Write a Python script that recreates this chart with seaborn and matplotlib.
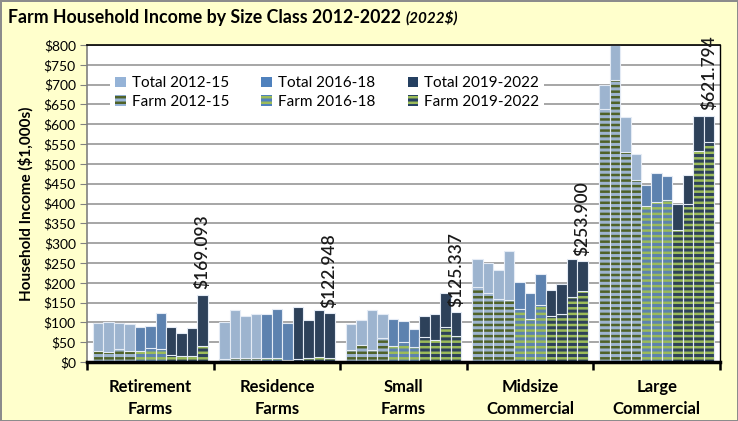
import numpy as np
import pandas as pd
import matplotlib
matplotlib.use('Agg')
import matplotlib.pyplot as plt
from matplotlib.patches import Patch
import seaborn as sns

# Values ($1,000s, 2022 dollars)
groups = ['Retirement\nFarms', 'Residence\nFarms', 'Small\nFarms',
          'Midsize\nCommercial', 'Large\nCommercial']
years = [str(y) for y in range(2012, 2023)]

total_retirement = [98, 101, 98, 96, 89, 91, 123, 89, 74, 87, 169.093]
farm_retirement = [28, 24, 32, 27, 29, 36, 33, 18, 15, 16, 41]
total_residence = [102, 130, 117, 120, 122, 133, 99, 139, 106, 130, 122.948]
farm_residence = [8, 10, 9, 10, 10, 11, 6, 7, 9, 12, 10]
total_small = [97, 105, 131, 121, 109, 104, 83, 117, 120, 174, 125.337]
farm_small = [31, 43, 31, 60, 40, 50, 37, 62, 55, 89, 65]
total_midsize = [261, 251, 231, 281, 202, 175, 222, 181, 196, 261, 253.900]
farm_midsize = [189, 175, 159, 156, 134, 108, 144, 116, 120, 165, 180]
total_large = [698, 800, 618, 525, 447, 476, 469, 400, 473, 622, 621.794]
farm_large = [638, 711, 531, 459, 394, 405, 408, 332, 399, 532, 555]

value_labels = ['$169.093', '$122.948', '$125.337', '$253.900', '$621.794']

# period colours: (total bar colour, farm stripe colour)
period_years = {'2012-15': years[0:4], '2016-18': years[4:7], '2019-2022': years[7:11]}
period_colors = {'2012-15': ('#95B3D7', '#4F6228'),
                 '2016-18': ('#4F81BD', '#9BBB59'),
                 '2019-2022': ('#254061', '#9BBB59')}

totals = [total_retirement, total_residence, total_small, total_midsize, total_large]
farms = [farm_retirement, farm_residence, farm_small, farm_midsize, farm_large]
rows = []
for g, tot, frm in zip(groups, totals, farms):
    for y, t, f in zip(years, tot, frm):
        rows.append({'group': g, 'year': y, 'total': t, 'farm': f})
df = pd.DataFrame(rows)

face_pal = {}
stripe_pal = {}
for per, yrs in period_years.items():
    for y in yrs:
        face_pal[y] = period_colors[per][0]
        stripe_pal[y] = period_colors[per][1]

plt.rcParams['font.family'] = ['Lato', 'DejaVu Sans']
plt.rcParams['hatch.linewidth'] = 1.8

fig, ax = plt.subplots(figsize=(7.38, 4.21), dpi=100)
fig.patch.set_facecolor('#FFFFCC')
fig.patch.set_edgecolor('#8C8C8C')
fig.patch.set_linewidth(2)
fig.subplots_adjust(left=87 / 738, right=720 / 738, bottom=1 - 362 / 421, top=1 - 45 / 421)
ax.set_facecolor('white')

bar_w = 0.91
edge = '#E4EBF5'

# totals
sns.barplot(data=df, x='group', y='total', hue='year', order=groups, hue_order=years,
            palette=face_pal, width=bar_w, gap=0, errorbar=None, legend=False,
            edgecolor=edge, linewidth=0.8, ax=ax)
n_total = len(ax.containers)

# farm portion, striped
sns.barplot(data=df, x='group', y='farm', hue='year', order=groups, hue_order=years,
            palette=face_pal, width=bar_w, gap=0, errorbar=None, legend=False, ax=ax)
for cont, y in zip(ax.containers[n_total:], years):
    for p in cont.patches:
        p.set_hatch('---')
        p.set_edgecolor(stripe_pal[y])
        p.set_linewidth(0)

# thin light outline on the farm bars
sns.barplot(data=df, x='group', y='farm', hue='year', order=groups, hue_order=years,
            palette=face_pal, width=bar_w, gap=0, errorbar=None, legend=False,
            fill=False, ax=ax)
for cont in ax.containers[2 * n_total:]:
    for p in cont.patches:
        p.set_edgecolor(edge)
        p.set_linewidth(0.8)

# value labels on the 2022 bars
for p, lab in zip(ax.containers[n_total - 1].patches, value_labels):
    ax.annotate(lab, xy=(p.get_x() + p.get_width() / 2, p.get_height()),
                xytext=(0, 4), textcoords='offset points', rotation=90,
                ha='center', va='bottom', fontsize=12.5, fontweight='semibold',
                color='#1A1A1A', annotation_clip=False)

# axes styling
ax.set_ylim(0, 800)
ax.set_xlim(-0.5, len(groups) - 0.5)
yt = np.arange(0, 801, 50)
ax.set_yticks(yt)
ax.set_yticklabels([f'${v}' for v in yt], fontsize=10)
ax.yaxis.grid(True, color='#A6A6A6', linewidth=1.4)
ax.set_axisbelow(True)
ax.tick_params(axis='y', length=5, color='#808080', pad=3)

ax.set_xticks(np.arange(-0.5, len(groups), 1.0))
ax.set_xticklabels([])
ax.tick_params(axis='x', which='major', length=6, width=1.8, color='black')
ax.set_xticks(np.arange(len(groups)), minor=True)
ax.set_xticklabels(groups, minor=True, fontsize=12, fontweight='bold', linespacing=1.45)
ax.tick_params(axis='x', which='minor', length=0, pad=12)
ax.set_xlabel('')

ax.set_ylabel('Household Income ($1,000s)', fontsize=11, fontweight='bold')
ax.yaxis.set_label_coords(-0.085, 0.5)

ax.spines['left'].set_color('#808080')
ax.spines['left'].set_linewidth(1.2)
ax.spines['bottom'].set_color('black')
ax.spines['bottom'].set_linewidth(2.5)
ax.spines['top'].set_color('black')
ax.spines['top'].set_linewidth(1.2)
ax.spines['right'].set_color('black')
ax.spines['right'].set_linewidth(1.0)

# legend
handles = []
for per in period_years:
    face, stripe = period_colors[per]
    handles.append(Patch(facecolor=face, edgecolor='none', label=f'Total {per}'))
    handles.append(Patch(facecolor=face, edgecolor=stripe, hatch='---', linewidth=0,
                         label=f'Farm {per}'))
leg = ax.legend(handles=handles, ncol=3, loc='upper left', bbox_to_anchor=(0.025, 0.94),
                fontsize=11, frameon=True, fancybox=False, framealpha=1,
                handlelength=0.7, handleheight=0.7, handletextpad=0.4,
                columnspacing=2.1, borderpad=0.3, labelspacing=0.3)
leg.get_frame().set_edgecolor('none')
leg.get_frame().set_facecolor('white')

# title with the italic unit note
t1 = fig.text(8 / 738, 1 - 18 / 421, 'Farm Household Income by Size Class 2012-2022',
              fontsize=12.8, fontweight='bold', ha='left', va='center')
fig.canvas.draw()
bb = t1.get_window_extent().transformed(fig.transFigure.inverted())
fig.text(bb.x1 + 0.006, 1 - 18 / 421, '(2022$)', fontsize=11, fontweight='bold',
         fontstyle='italic', ha='left', va='center')

fig.savefig('out.png', dpi=100)
